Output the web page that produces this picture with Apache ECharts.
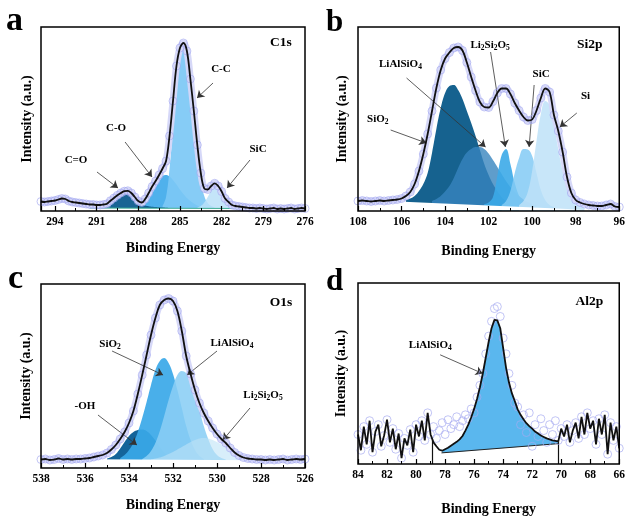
<!DOCTYPE html>
<html>
<head>
<meta charset="UTF-8">
<style>html,body{margin:0;padding:0;background:#fff;}</style>
</head>
<body>
<div id="xps" style="width:628px;height:517px"></div>
<script src="https://cdn.jsdelivr.net/npm/echarts@6.0.0/dist/echarts.min.js"></script>
<script>
var FONT = '"Liberation Serif", "Times New Roman", serif';

// ---------- a : C1s  (raw data every 0.25 eV, 295 -> 276)
var c1sStart = 295, c1sStep = 0.25;
var c1sRaw = [
  9.5, 9, 9.5, 10, 10.5, 11.5, 12.5, 12, 10, 9,
  8.5, 8, 7.5, 7, 6.5, 6.5, 6, 6, 6.5, 7.2,
  10.3, 13, 15.7, 18, 19.8, 20.2, 18, 14, 10, 8.5,
  12, 18, 24.5, 30, 36, 42.5, 50, 75, 110, 145,
  163, 168, 160, 132, 100, 66, 38, 22.5, 21.5, 25,
  27.7, 25, 19.5, 12.5, 9, 6, 5, 4.5, 4, 3.5,
  3, 3, 2.5, 3, 2.5, 2, 2.5, 3, 2, 2.5,
  2, 2.5, 3, 2, 2.5, 3, 2.5
];
var c1sCO2 = [3.5, 5, 7.5, 11, 14.5, 17.3, 18.8, 19, 17, 13.5, 9.5, 7, 5.5, 4.8, 4.3, 4, 3.7, 3.4, 3.2, 3]; // C=O from 290.5
var c1sCO = [4, 7, 12, 18.5, 25.5, 31.5, 35, 36, 34.5, 31, 26.5, 21.5, 17, 13, 10, 7.5, 5.5, 4.2, 3.3];     // C-O from 287.75
var c1sCC = [5, 14, 42, 82, 122, 150, 164, 155, 126, 92, 58, 31, 15, 8, 5, 3.5];                             // C-C from 286.25
var c1sSiC = [3.5, 5, 8.5, 14, 20.5, 25, 23.5, 18, 11.5, 7, 4.5, 3.5, 3];                                     // SiC from 283.75
var c1sBg = [[291.5, 3], [280.5, 2.5]];
var c1sLabels = [['{big|C1s}', 277.73, 168], ['C-C', 282.05, 142], ['C-O', 289.6, 83], ['C=O', 292.48, 51], ['SiC', 279.38, 62]];
var c1sArrows = [[282.62, 128, 283.77, 113], [288.95, 69, 287.01, 34], [290.97, 39, 289.46, 23], [279.96, 51, 281.61, 23]];

// ---------- b : Si2p (every 0.2 eV, 108 -> 96)
var si2pStart = 108, si2pStep = 0.2;
var si2pRaw = [
  10, 10.5, 10, 9.5, 10, 10.5, 10, 10.5, 11, 11.5,
  12.5, 15, 19, 27, 40, 57, 77, 100, 123, 141,
  152.5, 158.5, 163, 164, 160.5, 148.5, 134, 120.5, 109, 104,
  103.5, 109.5, 118, 122.5, 122.5, 117, 108, 100.5, 94, 90.5,
  91.5, 100.5, 113, 122.5, 119, 96, 80, 59, 34, 18,
  11, 8.5, 7, 6, 5.5, 5, 5, 6, 7, 4.5,
  4
];
var si2pSiO2 = [11, 12.5, 15, 20, 27, 38, 58, 82, 103, 118, 125, 126, 121, 112, 100, 88, 75, 61, 47, 36, 27, 20, 14, 10, 7, 6]; // from 105.8
var si2pLiAl = [10, 12, 15, 19.5, 25, 33, 43, 52, 58.5, 62, 64, 64, 62, 57.5, 51, 44, 37, 30, 24, 19, 15, 11.5, 9, 7, 5.5];   // from 104.6
var si2pLi2 = [7, 8.5, 14, 35, 56, 62, 47, 28, 15, 8.5, 5.5, 4.5];                                                              // from 102.2
var si2pSiC = [6, 10, 20, 38, 53, 62, 61.5, 55, 38, 21, 11, 6, 4];                                                               // from 101.4
var si2pSi = [6, 10, 19, 40, 70, 97, 110, 106, 86, 62, 40, 24, 14, 8, 5, 3.5];                                                   // from 100.6
var si2pBg = [[106.4, 9.8], [97.6, 1.3]];
var si2pLabels = [['{big|Si2p}', 97.36, 166], ['Li{s|2}Si{s|2}O{s|5}', 101.93, 166], ['LiAlSiO{s|4}', 106.05, 147],
  ['SiC', 99.59, 137], ['SiO{s|2}', 107.09, 92], ['Si', 97.55, 115]];
var si2pArrows = [[101.91, 159, 101.23, 64], [105.77, 133, 102.14, 64], [99.91, 126, 100.14, 64], [106.5, 81, 104.86, 68], [97.95, 98, 98.73, 84]];

// ---------- c : O1s (every 0.2 eV, 538 -> 526)
var o1sStart = 538, o1sStep = 0.2;
var o1sRaw = [
  8.5, 9, 8, 8.5, 9.5, 8.5, 9, 8.5, 9, 9,
  9.5, 10, 11, 12, 13, 15, 18.5, 23, 29, 36,
  45, 57, 74, 93, 113, 133, 150, 163, 168, 169.5,
  167, 157, 137, 112, 94, 78, 65, 55, 47, 40,
  34, 29, 25, 20, 15.5, 12.5, 10.5, 9.5, 9, 8.5,
  8.5, 8, 8.5, 8, 8.5, 9, 8, 8.5, 9, 8.5,
  9
];
var o1sOH = [9.5, 11, 14, 19.5, 26, 32, 36, 38, 38.5, 37, 33, 27.5, 21, 15.5, 11.5, 9];                                  // from 535.0
var o1sSiO2 = [10, 13, 18, 25, 36, 50, 66, 83, 98, 107, 110, 105, 94, 78, 60, 42, 28, 18, 12, 9];                         // from 534.4
var o1sLiAl = [9, 12, 17, 25, 37, 52, 68, 82, 93, 97, 95, 88, 75, 58, 42, 29, 19, 13, 10, 8.5];                          // from 533.4
var o1sLi2 = [8.5, 9.5, 10.5, 12, 14, 16, 18.5, 21, 23.5, 26, 28, 29.5, 30, 29.5, 28, 26, 23.5, 20.5, 17, 14, 11.5, 9.5, 8.5]; // from 533.0
var o1sBg = [[535.6, 8.8], [528.2, 7.8]];
var o1sLabels = [['{big|O1s}', 527.09, 165.5], ['SiO{s|2}', 534.86, 124], ['LiAlSiO{s|4}', 529.32, 125], ['-OH', 536.0, 62], ['Li{s|2}Si{s|2}O{s|5}', 527.91, 73]];
var o1sArrows = [[534.77, 117, 532.45, 93], [530.0, 117, 531.36, 93], [535.41, 53, 533.64, 23], [528.5, 60, 529.73, 28]];

// ---------- d : Al2p (every 0.2 eV, 84 -> 66)
var al2pStart = 84, al2pStep = 0.2;
var al2pRaw = [
  30, 14, 38, 20, 44, 12, 33, 40, 18, 29,
  45, 22, 36, 15, 31, 6, 26, 19, 35, 12,
  40, 28, 44, 24, 52, 30, 38, 26, 34, 42,
  30, 45, 36, 40, 48, 38, 44, 50, 46, 56,
  52, 68, 80, 92, 112, 130, 145, 158, 160, 150,
  128, 112, 92, 80, 62, 58, 40, 50, 32, 52,
  18, 40, 28, 46, 34, 22, 40, 30, 44, 24,
  36, 28, 40, 22, 34, 42, 26, 48, 30, 52,
  36, 44, 20, 46, 30, 50, 10, 42, 24, 38,
  16
];
var al2pFit = [22, 18, 14.5, 13.5, 15, 16.5, 18.5, 20.5, 22.5, 25,
  28.5, 34, 40, 47.5, 56, 66, 78, 92, 108, 124,
  138, 146.5, 146, 138, 118, 98, 83, 72, 64, 55.5,
  50, 45.5, 41.5, 38.5, 36, 33, 31, 29, 27.5, 26,
  25, 24, 23.5, 23]; // from 78.8 to 70.2
var al2pFitStart = 78.8;
var al2pBg = [[78.25, 11.3], [70.2, 20.7]];
var al2pLabels = [['{big|Al2p}', 68.05, 165], ['LiAlSiO{s|4}', 79.02, 121]];
var al2pArrows = [[78.34, 111, 75.41, 92]];
var al2pWindow = [[78.86, 0, 78.86, 24], [70.18, 0, 70.18, 23]]; // fit window edges

function seq(e0, step, vals) {
  return vals.map(function (v, i) { return [+(e0 - i * step).toFixed(2), v]; });
}

function comp(p, e0, step, vals, color) {
  return {
    type: 'line', xAxisIndex: p, yAxisIndex: p, data: seq(e0, step, vals),
    smooth: 0.4, symbol: 'none', silent: true, z: 2,
    lineStyle: { width: 0 }, areaStyle: { color: color, opacity: 1 }
  };
}

function mask(p, pts, lineColor) {
  return {
    type: 'line', xAxisIndex: p, yAxisIndex: p, data: pts, symbol: 'none', silent: true, z: 3,
    lineStyle: { color: lineColor || '#fff', width: lineColor ? 1 : 0 },
    areaStyle: { color: '#fff', opacity: 1 }
  };
}

// pale band the overlapping data circles make around the trace
function halo(p, data, smooth) {
  return {
    type: 'line', xAxisIndex: p, yAxisIndex: p, data: data, smooth: smooth, symbol: 'none', silent: true, z: 4,
    lineStyle: { color: 'rgba(212,214,248,0.95)', width: 7 }
  };
}

function dots(p, data, size) {
  return {
    type: 'scatter', xAxisIndex: p, yAxisIndex: p, data: data, symbol: 'circle', symbolSize: size,
    silent: true, z: 5,
    itemStyle: { color: 'rgba(255,255,255,0)', borderColor: 'rgba(165,170,240,0.85)', borderWidth: 1 }
  };
}

var labelRich = {
  s: { fontFamily: FONT, fontWeight: 'bold', fontSize: 7.5, lineHeight: 8, color: '#000', verticalAlign: 'bottom' },
  big: { fontFamily: FONT, fontWeight: 'bold', fontSize: 13.5, lineHeight: 16, color: '#000' }
};

function trace(p, data, smooth, labels, arrows, edges) {
  var lines = arrows.map(function (a) { return [{ coord: [a[0], a[1]] }, { coord: [a[2], a[3]] }]; });
  (edges || []).forEach(function (a) {
    lines.push([
      { coord: [a[0], a[1]], symbol: 'none', lineStyle: { color: '#111', width: 1.2 } },
      { coord: [a[2], a[3]], symbol: 'none' }
    ]);
  });
  return {
    type: 'line', xAxisIndex: p, yAxisIndex: p, data: data, smooth: smooth, symbol: 'none', z: 6,
    lineStyle: { color: '#111', width: 1.8 },
    markLine: {
      silent: true, symbol: ['none', 'arrow'], symbolSize: 7,
      lineStyle: { color: '#333', width: 0.8, type: 'solid' }, label: { show: false },
      data: lines
    },
    markPoint: {
      silent: true, symbol: 'circle', symbolSize: 1, itemStyle: { color: 'rgba(0,0,0,0)' },
      label: {
        show: true, position: 'inside', formatter: '{b}', color: '#000',
        fontFamily: FONT, fontWeight: 'bold', fontSize: 11, lineHeight: 14, rich: labelRich
      },
      data: labels.map(function (l) { return { name: l[0], coord: [l[1], l[2]] }; })
    }
  };
}

function xAxisFor(p, min, max, step, gap, fmt) {
  return {
    type: 'value', gridIndex: p, inverse: true, min: min, max: max, interval: step, z: 7,
    name: 'Binding Energy', nameLocation: 'middle', nameGap: gap,
    nameTextStyle: { fontFamily: FONT, fontWeight: 'bold', fontSize: 14, color: '#000' },
    axisLine: { show: false },
    axisTick: { inside: true, length: 5, lineStyle: { color: '#000', width: 1.2 } },
    minorTick: { show: true, splitNumber: 2, length: 3, lineStyle: { color: '#000', width: 1 } },
    axisLabel: { fontFamily: FONT, fontWeight: 'bold', fontSize: 11.5, color: '#000', margin: 5, formatter: fmt },
    splitLine: { show: false }, minorSplitLine: { show: false }
  };
}

function yAxisFor(p, gap) {
  return {
    type: 'value', gridIndex: p, min: 0, max: 184,
    name: 'Intensity (a.u.)', nameLocation: 'middle', nameRotate: 90, nameGap: gap,
    nameTextStyle: { fontFamily: FONT, fontWeight: 'bold', fontSize: 14, color: '#000' },
    axisLine: { show: false }, axisTick: { show: false }, axisLabel: { show: false }, splitLine: { show: false }
  };
}

var c1sData = seq(c1sStart, c1sStep, c1sRaw);
var si2pData = seq(si2pStart, si2pStep, si2pRaw);
var o1sData = seq(o1sStart, o1sStep, o1sRaw);
var al2pData = seq(al2pStart, al2pStep, al2pRaw);
var al2pEnv = seq(al2pFitStart, al2pStep, al2pFit);
// black trace in d: raw noise outside the fitted window, fit envelope inside
var al2pTrace = al2pData.filter(function (d) { return d[0] >= 79; })
  .concat(al2pEnv)
  .concat(al2pData.filter(function (d) { return d[0] <= 70; }));
var al2pPeak = al2pEnv.filter(function (d) { return d[0] <= 78.2; });

var series = [
  // a
  comp(0, 287.75, 0.25, c1sCO, 'rgba(60,168,234,0.9)'),
  comp(0, 286.25, 0.25, c1sCC, 'rgba(124,200,245,0.92)'),
  comp(0, 290.5, 0.25, c1sCO2, 'rgba(13,92,142,0.95)'),
  comp(0, 283.75, 0.25, c1sSiC, 'rgba(186,225,248,0.85)'),
  mask(0, c1sBg, '#3fae95'),
  halo(0, c1sData, 0.35),
  dots(0, c1sData, 8),
  trace(0, c1sData, 0.35, c1sLabels, c1sArrows),
  // b
  comp(1, 105.8, 0.2, si2pSiO2, 'rgba(22,98,143,1)'),
  comp(1, 104.6, 0.2, si2pLiAl, 'rgba(55,132,190,0.8)'),
  comp(1, 102.2, 0.2, si2pLi2, 'rgba(60,170,232,0.9)'),
  comp(1, 101.4, 0.2, si2pSiC, 'rgba(130,202,245,0.85)'),
  comp(1, 100.6, 0.2, si2pSi, 'rgba(190,226,248,0.85)'),
  mask(1, si2pBg),
  halo(1, si2pData, 0.35),
  dots(1, si2pData, 8),
  trace(1, si2pData, 0.35, si2pLabels, si2pArrows),
  // c
  comp(2, 535.0, 0.2, o1sOH, 'rgba(20,100,154,1)'),
  comp(2, 534.4, 0.2, o1sSiO2, 'rgba(58,168,232,0.92)'),
  comp(2, 533.4, 0.2, o1sLiAl, 'rgba(138,206,245,0.88)'),
  comp(2, 533.0, 0.2, o1sLi2, 'rgba(190,226,247,0.6)'),
  mask(2, o1sBg),
  halo(2, o1sData, 0.35),
  dots(2, o1sData, 8),
  trace(2, o1sData, 0.35, o1sLabels, o1sArrows),
  // d
  {
    type: 'line', xAxisIndex: 3, yAxisIndex: 3, data: al2pPeak, symbol: 'none', silent: true, z: 2,
    lineStyle: { width: 0 }, areaStyle: { color: '#5ab7ee', opacity: 1 }
  },
  mask(3, al2pBg, '#222'),
  dots(3, al2pData, 8),
  trace(3, al2pTrace, false, al2pLabels, al2pArrows, al2pWindow)
];

var gridBox = { show: true, borderColor: '#000', borderWidth: 1.5, z: 7, backgroundColor: 'rgba(0,0,0,0)' };
function grid(l, t) { return Object.assign({ left: l, top: t, width: 264, height: 184 }, gridBox); }

var letterFont = function (s) { return 'bold ' + s + 'px ' + FONT; };

var chart = echarts.init(document.getElementById('xps'));
chart.setOption({
  animation: false,
  backgroundColor: '#fff',
  grid: [grid(41, 27), grid(358, 27), grid(41, 284), grid(358, 283)],
  xAxis: [
    xAxisFor(0, 276, 295, 3, 30, function (v) { return (v - 276) % 3 === 0 ? v : ''; }),
    xAxisFor(1, 96, 108, 2, 33),
    xAxisFor(2, 526, 538, 2, 30),
    xAxisFor(3, 66, 84, 2, 38)
  ],
  yAxis: [yAxisFor(0, 7), yAxisFor(1, 9), yAxisFor(2, 8), yAxisFor(3, 10)],
  series: series,
  graphic: [
    { type: 'text', x: 6, y: 21, style: { text: 'a', font: letterFont(34), fill: '#000', verticalAlign: 'middle' } },
    { type: 'text', x: 326, y: 23, style: { text: 'b', font: letterFont(31), fill: '#000', verticalAlign: 'middle' } },
    { type: 'text', x: 8, y: 279, style: { text: 'c', font: letterFont(34), fill: '#000', verticalAlign: 'middle' } },
    { type: 'text', x: 326, y: 282, style: { text: 'd', font: letterFont(31), fill: '#000', verticalAlign: 'middle' } }
  ]
});
</script>
</body>
</html>
